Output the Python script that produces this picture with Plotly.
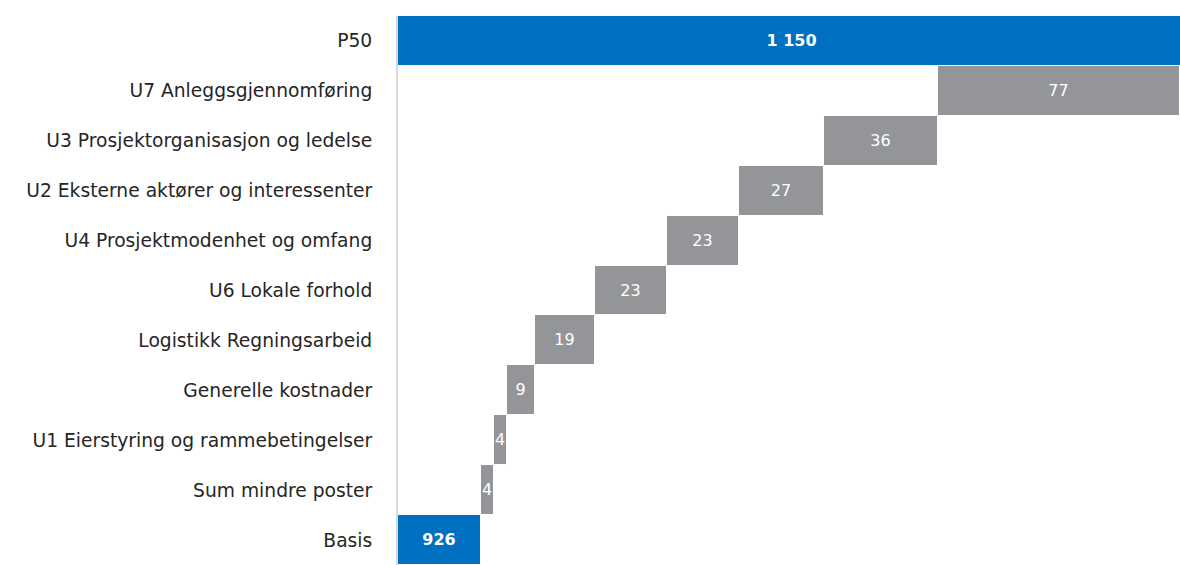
import plotly.graph_objects as go

categories = [
    "Basis",
    "Sum mindre poster",
    "U1 Eierstyring og rammebetingelser",
    "Generelle kostnader",
    "Logistikk Regningsarbeid",
    "U6 Lokale forhold",
    "U4 Prosjektmodenhet og omfang",
    "U2 Eksterne aktører og interessenter",
    "U3 Prosjektorganisasjon og ledelse",
    "U7 Anleggsgjennomføring",
    "P50",
]
values = [926, 4, 4, 9, 19, 23, 23, 27, 36, 77, 1150]
kinds = ["total", "step", "step", "step", "step", "step", "step", "step", "step", "step", "total"]

AXIS_START = 899.5
AXIS_END = 1148

BLUE = "#0070C0"
GREY = "#939598"

# totals start at the left edge of the visible axis; steps float on the running sum
bases, lengths = [], []
running = 0
for v, k in zip(values, kinds):
    if k == "total":
        bases.append(AXIS_START)
        lengths.append(v - AXIS_START)
        running = v
    else:
        bases.append(running)
        lengths.append(v)
        running += v

def fmt(v):
    return f"{v:,}".replace(",", " ")

texts = [f"<b>{fmt(v)}</b>" if k == "total" else fmt(v) for v, k in zip(values, kinds)]
colors = [BLUE if k == "total" else GREY for k in kinds]

fig = go.Figure(go.Bar(
    y=categories,
    x=lengths,
    base=bases,
    orientation="h",
    marker=dict(color=colors, line=dict(color="white", width=1)),
    text=texts,
    textposition="inside",
    insidetextanchor="middle",
    constraintext="none",
    textfont=dict(color="white", size=16, family="DejaVu Sans"),
    cliponaxis=True,
    hoverinfo="skip",
))

fig.update_layout(
    width=1180, height=565,
    margin=dict(l=398, r=0, t=16, b=0),
    paper_bgcolor="white", plot_bgcolor="white",
    bargap=0,
    showlegend=False,
    font=dict(family="DejaVu Sans", size=18, color="#262626"),
)
fig.update_xaxes(range=[AXIS_START, AXIS_END], showgrid=False, zeroline=False,
                 showticklabels=False, ticks="", showline=False, fixedrange=True)
fig.update_yaxes(categoryorder="array", categoryarray=categories,
                 showgrid=False, zeroline=False, ticks="",
                 showline=True, linecolor="#D9D9D9", linewidth=2,
                 ticklabelstandoff=20, tickfont=dict(size=18.7, color="#262626"))

fig.write_html("out.html")
